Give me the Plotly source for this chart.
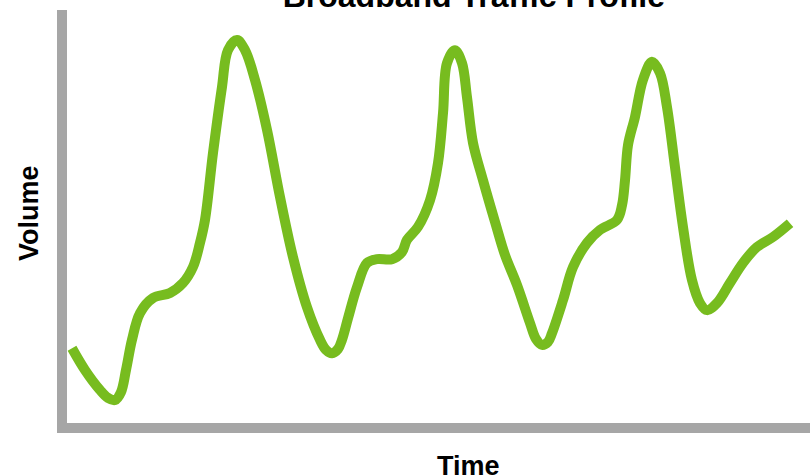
import plotly.graph_objects as go

# Traffic volume over time (arbitrary units, 0-100 on both axes)
time = [1.34, 3.07, 5.08, 6.15, 7.09, 7.89, 8.56, 9.36, 10.43, 12.17,
        14.44, 16.18, 17.51, 18.45, 19.12, 20.19, 21.39, 22.19, 23.40, 24.47,
        25.80, 27.41, 29.14, 30.88, 32.75, 34.49, 35.29, 36.10, 36.90, 37.43,
        38.24, 39.44, 40.78, 42.11, 44.12, 45.45, 46.12, 47.59, 49.20, 50.27,
        50.94, 51.47, 52.54, 53.48, 54.14, 54.95, 56.28, 57.89, 59.22, 60.83,
        62.57, 63.37, 64.17, 64.97, 65.51, 66.98, 68.32, 70.19, 71.93, 74.20,
        74.87, 75.27, 75.67, 76.60, 77.67, 78.88, 79.95, 80.88, 81.95, 83.02,
        84.22, 85.29, 86.23, 87.57, 89.30, 91.04, 92.91, 95.05, 97.33]
volume = [19.1, 13.9, 9.1, 7.2, 6.7, 8.6, 13.9, 21.1, 27.5, 31.1,
          32.3, 34.7, 38.5, 44.3, 49.8, 65.8, 81.6, 90.4, 92.8, 90.4,
          83.3, 71.3, 55.3, 40.9, 28.9, 21.1, 18.7, 17.9, 18.9, 21.1,
          26.3, 33.7, 39.5, 40.4, 40.4, 42.1, 45.0, 48.1, 54.5, 63.4,
          75.4, 87.3, 90.4, 87.3, 79.2, 68.2, 59.3, 49.3, 41.4, 34.2,
          25.1, 21.3, 19.9, 20.6, 22.7, 30.6, 38.5, 44.3, 47.4, 49.8,
          53.3, 59.3, 67.7, 74.4, 83.3, 87.6, 84.9, 76.8, 62.4, 48.1,
          35.4, 29.9, 28.2, 29.9, 34.7, 39.5, 43.3, 45.7, 49.0]

title_text = "Broadband Traffic Profile"
x_label = "Time"
y_label = "Volume"

GREEN = "#77bc1f"
GREY = "#a6a6a6"
FONT = "Liberation Sans, Arial, sans-serif"

fig = go.Figure()
fig.add_trace(go.Scatter(
    x=time, y=volume, mode="lines",
    line=dict(color=GREEN, width=10, shape="spline", smoothing=1.0),
    hoverinfo="skip", showlegend=False,
))

axis_common = dict(showgrid=False, zeroline=False, showticklabels=False,
                   ticks="", showline=True, linecolor=GREY, linewidth=10)

fig.update_layout(
    width=810, height=475,
    margin=dict(l=67, r=0, t=10, b=52),
    paper_bgcolor="white", plot_bgcolor="white",
    title=dict(text="<b>" + title_text + "</b>", x=0.585, xanchor="center",
               y=0.985, yanchor="bottom",
               font=dict(family=FONT, size=32, color="black")),
    xaxis=dict(range=[0.67, 100], **axis_common),
    yaxis=dict(range=[1.2, 100], **axis_common),
    annotations=[
        dict(text="<b>" + x_label + "</b>", xref="paper", yref="paper",
             x=(468 - 67) / 743, y=-43 / 413, xanchor="center", yanchor="middle",
             showarrow=False, font=dict(family=FONT, size=27, color="black")),
        dict(text="<b>" + y_label + "</b>", xref="paper", yref="paper",
             x=-38 / 743, y=(423 - 213) / 413, xanchor="center", yanchor="middle",
             textangle=-90, showarrow=False,
             font=dict(family=FONT, size=27, color="black")),
    ],
)

fig.write_html("out.html")
